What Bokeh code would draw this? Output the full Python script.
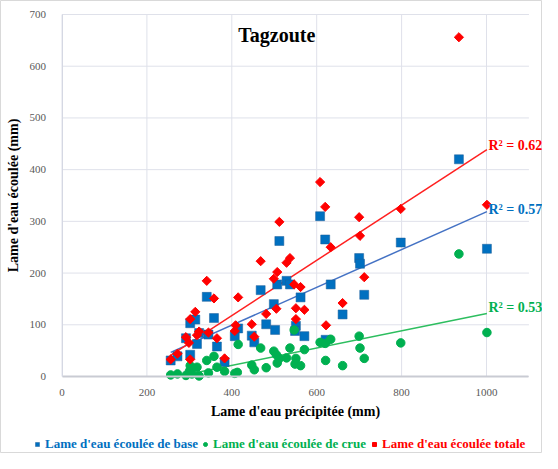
import numpy as np
from bokeh.plotting import figure
from bokeh.models import Label, Legend, LegendItem, FixedTicker, Range1d
from bokeh.embed import file_html
from bokeh.resources import INLINE

# ---- data ----
precip_base = [256, 272, 292, 302, 314, 302, 318, 323, 341, 345, 358, 365, 383, 407, 415,
               447, 453, 468, 481, 499, 502, 507, 512, 529, 537, 551, 549, 562, 571, 608,
               620, 621, 633, 661, 700, 702, 712, 798, 935, 1001]
base = [31, 39, 74, 103, 110, 42, 63, 84, 154, 81, 113, 58, 28, 78, 93,
        79, 66, 167, 101, 140, 90, 178, 262, 185, 178, 98, 88, 153, 78, 310,
        265, 71, 178, 120, 229, 218, 158, 259, 420, 247]

precip_crue = [256, 272, 292, 300, 302, 306, 318, 323, 341, 345, 358, 365, 383, 407, 413,
               415, 447, 453, 468, 481, 499, 505, 507, 512, 529, 537, 547, 551, 549, 562,
               571, 608, 620, 621, 633, 661, 700, 702, 712, 798, 935, 1001]
crue = [3, 5, 2, 10, 21, 5, 18, 1, 31, 7, 39, 18, 10, 6, 8,
        62, 22, 13, 55, 17, 49, 42, 26, 35, 36, 55, 90, 35, 24, 21,
        52, 66, 64, 31, 72, 21, 78, 55, 35, 65, 237, 85]

precip_total = [256, 272, 292, 302, 299, 302, 314, 318, 323, 341, 345, 358, 365, 383, 407,
                409, 415, 447, 453, 468, 481, 499, 505, 507, 512, 529, 537, 547, 551, 551,
                562, 571, 608, 620, 622, 633, 661, 700, 702, 712, 798, 935, 1001]
total = [33, 44, 76, 111, 65, 33, 125, 80, 87, 185, 85, 151, 74, 35, 88,
         99, 153, 101, 77, 223, 121, 189, 131, 202, 299, 220, 229, 178, 111, 132,
         173, 129, 376, 328, 99, 250, 142, 308, 272, 192, 324, 656, 332]

r2_labels = ["R² = 0.57", "R² = 0.53", "R² = 0.62"]
series_names = ["Lame d'eau écoulée de base", "Lame d'eau écoulée de crue",
                "Lame d'eau écoulée totale"]
x_ticks = [0, 200, 400, 600, 800, 1000]
y_ticks = [0, 100, 200, 300, 400, 500, 600, 700]
x_max, y_max = 1100, 700

BLUE, GREEN, RED = "#0070C0", "#00B050", "#FF0000"
FONT = "Liberation Serif"
GRID = "#dfe1ea"

W, H = 542, 453
x0_px, y0_px, ytop_px = 61.5, 376.0, 14.0      # pixel positions of x=0, y=0, y=700
kx = (494.0 - 69.5) / 1000.0
ky = (y0_px - ytop_px) / y_max

p = figure(width=W, height=H, output_backend="svg", toolbar_location=None,
           x_range=Range1d(-x0_px / kx, (W - x0_px) / kx),
           y_range=Range1d(-(H - y0_px) / ky, y_max + ytop_px / ky),
           min_border=0)
p.outline_line_color = "#d9d9d9"
p.background_fill_color = "white"
p.xgrid.visible = False
p.ygrid.visible = False

# gridlines restricted to the plotting area (0..1100, 0..700)
p.segment(x0=x_ticks, y0=0, x1=x_ticks, y1=y_max, line_color=GRID, line_width=1)
p.segment(x0=0, y0=y_ticks, x1=x_max, y1=y_ticks, line_color=GRID, line_width=1)

p.xaxis.ticker = FixedTicker(ticks=x_ticks)
p.yaxis.ticker = FixedTicker(ticks=y_ticks)
p.xaxis.fixed_location = 0
p.yaxis.fixed_location = 0
p.xaxis.bounds = (0, x_max)
p.yaxis.bounds = (0, y_max)
for ax in (p.xaxis, p.yaxis):
    ax.major_tick_line_color = None
    ax.minor_tick_line_color = None
    ax.major_label_text_font = FONT
    ax.major_label_text_font_size = "11px"
    ax.major_label_text_color = "#595959"
    ax.axis_label_text_font = FONT
    ax.axis_label_text_font_style = "bold"
    ax.axis_label_text_font_size = "14px"
    ax.axis_label_text_color = "black"
p.xaxis.axis_line_color = "#c9cbd3"
p.xaxis.axis_line_width = 2
p.yaxis.axis_line_color = "#d5d8e3"
p.yaxis.axis_line_width = 1
p.xaxis.major_label_standoff = 6
p.yaxis.major_label_standoff = 10
p.xaxis.axis_label = "Lame d'eau précipitée (mm)"
p.yaxis.axis_label = "Lame d'eau écoulée (mm)"
p.xaxis.axis_label_standoff = 5
p.yaxis.axis_label_standoff = 6


def fit(x, y):
    a, b = np.polyfit(np.asarray(x, float), np.asarray(y, float), 1)
    xs = np.array([min(x), max(x)], float)
    return xs, a * xs + b


# trend lines
bx, by = fit(precip_base, base)
cx, cy = fit(precip_crue, crue)
tx, ty = fit(precip_total, total)
p.line(bx, by, line_color="#4472C4", line_width=1.5)
p.line(cx, cy, line_color="#2DBE5F", line_width=1.5)
p.line(tx, ty, line_color="#FF2020", line_width=1.5)

r_base = p.scatter(precip_base, base, marker="square", size=9, fill_color=BLUE,
                   line_color="#1F5F99", line_width=0.5)
r_crue = p.scatter(precip_crue, crue, marker="circle", size=8.5, fill_color=GREEN,
                   line_color=GREEN)
r_total = p.scatter(precip_total, total, marker="square", angle=np.pi / 4, size=6.5,
                    fill_color=RED, line_color=RED)

# R² labels
for txt, col, yv in ((r2_labels[2], RED, 447), (r2_labels[0], BLUE, 322),
                     (r2_labels[1], GREEN, 133)):
    p.add_layout(Label(x=1000, y=yv, x_offset=2, text=txt, text_color=col,
                       text_font=FONT, text_font_style="bold", text_font_size="14px",
                       text_baseline="middle", text_align="left"))

# inner title
p.add_layout(Label(x=506, y=661, text="Tagzoute", text_font=FONT,
                   text_font_style="bold", text_font_size="20px",
                   text_align="center", text_baseline="middle", text_color="black"))

# legends (one per series to colour each label)
for r, name, col, loc in ((r_base, series_names[0], BLUE, (32, 1)),
                          (r_crue, series_names[1], GREEN, (200, 1)),
                          (r_total, series_names[2], RED, (369, 1))):
    lg = Legend(items=[LegendItem(label=name, renderers=[r])], location=loc,
                orientation="horizontal", border_line_color=None,
                background_fill_alpha=0, padding=0, spacing=0, margin=0,
                glyph_width=10, glyph_height=12, label_standoff=3,
                label_text_font=FONT, label_text_font_style="bold",
                label_text_font_size="13px", label_text_color=col,
                label_height=12)
    p.add_layout(lg, "center")

open("out.html", "w").write(file_html(p, INLINE))
